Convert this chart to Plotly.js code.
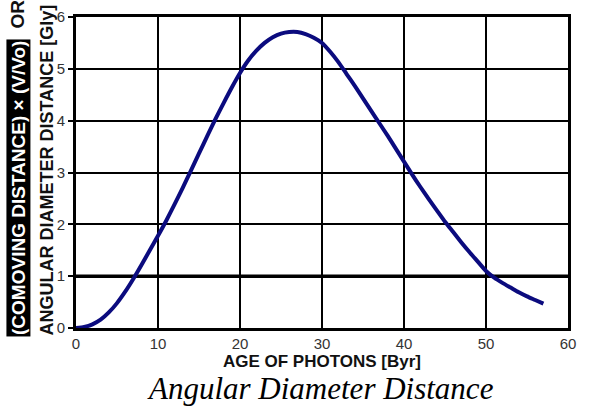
<!DOCTYPE html>
<html><head><meta charset="utf-8">
<script src="https://cdn.plot.ly/plotly-3.0.1.min.js"></script>
<style>html,body{margin:0;padding:0;background:#fff;}#chart{width:591px;height:413px;}</style>
</head><body><div id="chart"></div>
<script>
var ageOfPhotons = [0,1,2,3,4,5,6,7,8,9,10,11,12,13,14,15,16,17,18,19,20,21,22,23,24,25,26,27,28,29,30,31,32,33,34,35,36,37,38,39,40,41,42,43,44,45,46,47,48,49,50,51,52,53,54,55,56,57];
var distanceGly = [0,0.02,0.07,0.16,0.3,0.48,0.7,0.95,1.22,1.5,1.78,2.07,2.38,2.7,3.03,3.37,3.7,4.03,4.34,4.64,4.92,5.16,5.35,5.5,5.61,5.68,5.71,5.71,5.67,5.6,5.5,5.33,5.13,4.9,4.67,4.43,4.19,3.95,3.71,3.46,3.21,2.96,2.72,2.49,2.27,2.05,1.85,1.65,1.46,1.28,1.1,0.97,0.87,0.78,0.69,0.61,0.54,0.47];
var xTicks = [0,10,20,30,40,50,60];
var yTicks = [0,1,2,3,4,5,6];

var trace = {x: ageOfPhotons, y: distanceGly, type: 'scatter', mode: 'lines',
  line: {color: '#0b0b7e', width: 4, shape: 'spline', smoothing: 0.6}, hoverinfo: 'skip'};

var sans = 'Liberation Sans, Arial, sans-serif';
var tickFont = {family: sans, size: 15, color: '#333'};
var layout = {
  width: 591, height: 413,
  margin: {l: 76, r: 23, t: 17, b: 85},
  paper_bgcolor: '#fff', plot_bgcolor: '#fff',
  showlegend: false,
  xaxis: {range: [0, 60], tickvals: xTicks, ticktext: xTicks.map(String), showgrid: true, gridcolor: '#000', gridwidth: 2,
    zeroline: false, showline: true, linecolor: '#000', linewidth: 3, mirror: true,
    ticks: 'outside', ticklen: 0, tickfont: tickFont,
    title: {text: '<b>AGE OF PHOTONS [Byr]</b>', font: {family: sans, size: 17, color: '#111'}, standoff: 0}},
  yaxis: {range: [0, 6], tickvals: yTicks, ticktext: yTicks.map(String), showgrid: true, gridcolor: '#000', gridwidth: 2,
    zeroline: false, showline: true, linecolor: '#000', linewidth: 3, mirror: true,
    ticks: 'outside', ticklen: 5, tickwidth: 2, tickcolor: '#000', tickfont: tickFont},
  shapes: [{type: 'line', xref: 'paper', x0: 0, x1: 1, yref: 'y', y0: 1, y1: 1, line: {color: '#000', width: 3.5}, layer: 'below'}],
  annotations: [
    {text: '<b>(COMOVING DISTANCE) × (V/Vo)</b>', xref: 'paper', yref: 'paper', x: -0.118, y: -0.029, xanchor: 'center', yanchor: 'bottom',
      textangle: -90, showarrow: false, bgcolor: '#000', borderpad: 1,
      font: {family: sans, size: 19, color: '#fff'}},
    {text: '<b>OR</b>', xref: 'paper', yref: 'paper', x: -0.118, y: 0.958, xanchor: 'center', yanchor: 'bottom',
      textangle: -90, showarrow: false,
      font: {family: sans, size: 19, color: '#111'}},
    {text: '<b>ANGULAR DIAMETER DISTANCE [Gly]</b>', xref: 'paper', yref: 'paper', x: -0.059, y: -0.029, xanchor: 'center', yanchor: 'bottom',
      textangle: -90, showarrow: false,
      font: {family: sans, size: 18, color: '#111'}},
    {text: '<i>Angular Diameter Distance</i>', xref: 'paper', yref: 'paper', x: 0.497, y: -0.193, xanchor: 'center', yanchor: 'middle',
      showarrow: false, font: {family: 'Liberation Serif, Times New Roman, serif', size: 31, color: '#000'}}
  ]
};
Plotly.newPlot('chart', [trace], layout, {staticPlot: true, displayModeBar: false});
</script></body></html>
